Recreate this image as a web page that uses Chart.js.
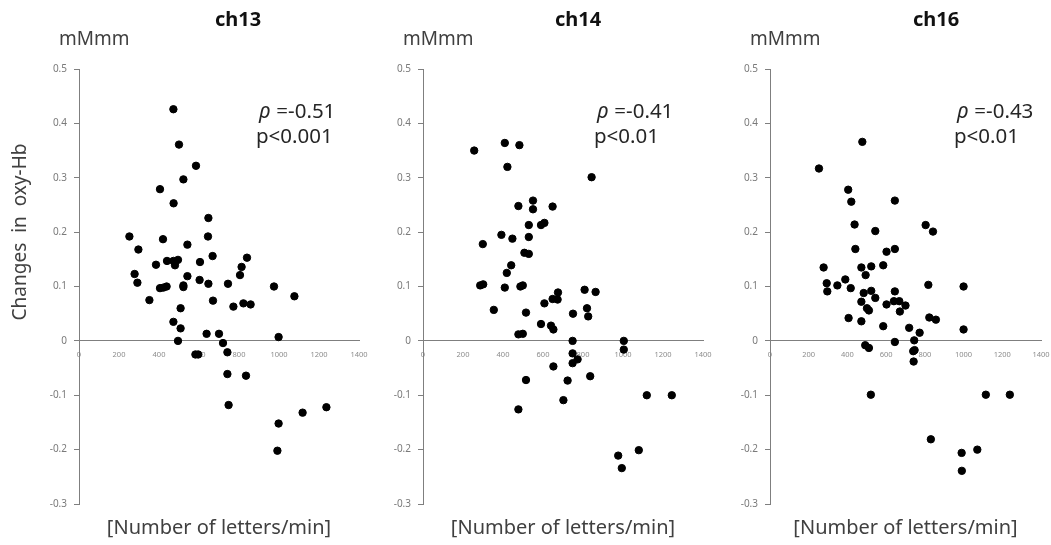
<!DOCTYPE html>
<html>
<head>
<meta charset="utf-8">
<script src="https://cdn.jsdelivr.net/npm/chart.js@4"></script>
<style>
  html, body { margin: 0; padding: 0; background: #fff; }
  #wrap { position: relative; width: 1051px; height: 545px; overflow: hidden; }
  #wrap canvas { position: absolute; top: 0; }
</style>
</head>
<body>
<div id="wrap">
  <canvas id="ch13Elem" width="375" height="545" style="left:0px"></canvas>
  <canvas id="ch14Elem" width="340" height="545" style="left:375px"></canvas>
  <canvas id="ch16Elem" width="336" height="545" style="left:715px"></canvas>
</div>
<script>
// x: number of letters / min, y: change in oxy-Hb (mM mm)
const ch13X = [472, 500, 585, 522, 405, 473, 647, 252, 645, 420, 297, 542, 668, 840, 385, 440, 472, 495, 480, 605,
    813, 278, 542, 603, 805, 292, 405, 422, 438, 522, 522, 647, 745, 975, 1077, 352, 670, 772, 822, 858,
    508, 472, 508, 638, 700, 495, 720, 998, 582, 596, 742, 742, 835, 748, 998, 1118, 1237, 992];
const ch13Y = [0.426, 0.361, 0.322, 0.297, 0.279, 0.253, 0.226, 0.192, 0.192, 0.187, 0.168, 0.177, 0.156, 0.153, 0.140, 0.147, 0.147, 0.149, 0.139, 0.145,
    0.136, 0.123, 0.119, 0.112, 0.121, 0.107, 0.097, 0.098, 0.100, 0.102, 0.099, 0.105, 0.105, 0.100, 0.082, 0.075, 0.074, 0.063, 0.069, 0.067,
    0.060, 0.035, 0.023, 0.013, 0.013, 0.000, -0.004, 0.007, -0.025, -0.025, -0.021, -0.061, -0.064, -0.118, -0.152, -0.132, -0.122, -0.202];

const ch14X = [256, 409, 482, 422, 843, 550, 550, 477, 648, 529, 590, 607, 392, 447, 529, 299, 507, 529, 441, 419,
    286, 301, 409, 487, 499, 675, 808, 863, 648, 673, 607, 354, 515, 750, 820, 826, 590, 640, 652, 477,
    499, 748, 1004, 748, 1004, 773, 748, 652, 836, 515, 723, 1119, 1244, 702, 477, 1079, 976, 994];
const ch14Y = [0.350, 0.364, 0.360, 0.320, 0.301, 0.258, 0.242, 0.248, 0.247, 0.213, 0.213, 0.217, 0.195, 0.188, 0.191, 0.178, 0.162, 0.160, 0.139, 0.125,
    0.102, 0.104, 0.098, 0.100, 0.102, 0.089, 0.094, 0.090, 0.077, 0.076, 0.069, 0.057, 0.052, 0.050, 0.060, 0.045, 0.031, 0.028, 0.021, 0.012,
    0.013, 0.000, 0.000, -0.023, -0.016, -0.034, -0.041, -0.047, -0.065, -0.072, -0.073, -0.100, -0.100, -0.109, -0.126, -0.201, -0.211, -0.234];

const ch16X = [477, 253, 404, 420, 645, 437, 804, 842, 544, 441, 602, 645, 277, 472, 523, 585, 494, 389, 293, 296,
    348, 417, 818, 1000, 484, 523, 645, 544, 472, 640, 668, 700, 602, 501, 511, 671, 406, 823, 857, 472,
    585, 719, 773, 1000, 645, 745, 492, 511, 747, 740, 742, 521, 1115, 1239, 831, 1071, 990, 991];
const ch16Y = [0.366, 0.317, 0.278, 0.256, 0.258, 0.214, 0.213, 0.201, 0.202, 0.169, 0.164, 0.169, 0.135, 0.135, 0.137, 0.139, 0.121, 0.113, 0.106, 0.091,
    0.102, 0.097, 0.103, 0.100, 0.088, 0.092, 0.091, 0.079, 0.072, 0.073, 0.073, 0.065, 0.067, 0.060, 0.056, 0.054, 0.042, 0.043, 0.039, 0.036,
    0.027, 0.024, 0.015, 0.021, -0.002, 0.001, -0.008, -0.013, -0.017, -0.019, -0.038, -0.099, -0.099, -0.099, -0.181, -0.200, -0.206, -0.239];

const panelNames = ['ch13', 'ch14', 'ch16'];
const rhoValues = ['=-0.51', '=-0.41', '=-0.43'];
const pLabels = ['p<0.001', 'p<0.01', 'p<0.01'];

const textFont = '"Noto Sans", "Open Sans", sans-serif';

// draws the panel texts (title, unit, stats, axis captions)
const panelTextPlugin = {
    id: 'panelText',
    afterDraw(chart, args, opts) {
        const ctx = chart.ctx;
        const area = chart.chartArea;
        ctx.save();
        ctx.textBaseline = 'middle';

        ctx.fillStyle = '#111';
        ctx.font = `bold 20px ${textFont}`;
        ctx.textAlign = 'center';
        ctx.fillText(opts.title, opts.titleX, 20);

        ctx.fillStyle = '#404040';
        ctx.font = `19px ${textFont}`;
        ctx.textAlign = 'left';
        ctx.fillText('mMmm', area.left - 20, 40);

        ctx.fillStyle = '#262626';
        ctx.font = `italic 21px ${textFont}`;
        ctx.fillText('\u03C1', opts.statX, 112);
        ctx.font = `20.5px ${textFont}`;
        ctx.fillText(' ' + opts.rho, opts.statX + 12, 112);
        ctx.fillText(opts.p, opts.statX - 3, 137);

        ctx.fillStyle = '#404040';
        ctx.textAlign = 'center';
        ctx.font = `20px ${textFont}`;
        ctx.fillText('[Number of letters/min]', (area.left + area.right) / 2, 528);

        if (opts.yTitle) {
            ctx.font = `19px ${textFont}`;
            ctx.translate(21, 232);
            ctx.rotate(-Math.PI / 2);
            ctx.fillText('Changes  in  oxy-Hb', 0, 0);
        }
        ctx.restore();
    }
};

const getChartConfig = (xs, ys, yAxisWidth, padRight, textOpts) => {
    return {
        type: 'scatter',
        data: {
            datasets: [{
                data: xs.map((x, i) => ({ x: x, y: ys[i] })),
                backgroundColor: '#000',
                borderColor: '#000',
                pointRadius: 3.7,
                pointHoverRadius: 3.7
            }]
        },
        options: {
            responsive: false,
            animation: false,
            layout: { padding: { top: 69, bottom: 41, left: 0, right: padRight } },
            scales: {
                x: {
                    type: 'linear',
                    min: 0,
                    max: 1400,
                    position: { y: 0 },
                    border: { color: '#7f7f7f', width: 1 },
                    grid: { display: false, drawTicks: false },
                    ticks: {
                        stepSize: 200,
                        padding: 9,
                        color: '#8c8c8c',
                        font: { size: 7.5, family: textFont },
                        maxRotation: 0,
                        callback: (v) => String(v)
                    },
                    afterFit: (scale) => { scale.paddingLeft = 0; scale.paddingRight = 0; }
                },
                y: {
                    type: 'linear',
                    min: -0.3,
                    max: 0.5,
                    border: { color: '#7f7f7f', width: 1 },
                    grid: { drawOnChartArea: false, drawTicks: true, tickLength: 5, color: '#7f7f7f' },
                    ticks: {
                        stepSize: 0.1,
                        padding: 7,
                        color: '#7a7a7a',
                        font: { size: 10, family: textFont },
                        callback: (v) => Math.round(v * 10) / 10
                    },
                    afterFit: (scale) => {
                        scale.width = yAxisWidth;
                        scale.paddingTop = 0;
                        scale.paddingBottom = 0;
                    }
                }
            },
            plugins: {
                legend: { display: false },
                tooltip: { enabled: false },
                panelText: textOpts
            }
        },
        plugins: [panelTextPlugin]
    };
};

const ch13Chart = new Chart(document.getElementById('ch13Elem'),
    getChartConfig(ch13X, ch13Y, 79, 16,
        { title: panelNames[0], titleX: 238, rho: rhoValues[0], p: pLabels[0], statX: 259, yTitle: true }));

const ch14Chart = new Chart(document.getElementById('ch14Elem'),
    getChartConfig(ch14X, ch14Y, 48, 12,
        { title: panelNames[1], titleX: 578 - 375, rho: rhoValues[1], p: pLabels[1], statX: 597 - 375, yTitle: false }));

const ch16Chart = new Chart(document.getElementById('ch16Elem'),
    getChartConfig(ch16X, ch16Y, 55, 10,
        { title: panelNames[2], titleX: 936 - 715, rho: rhoValues[2], p: pLabels[2], statX: 957 - 715, yTitle: false }));
</script>
</body>
</html>
